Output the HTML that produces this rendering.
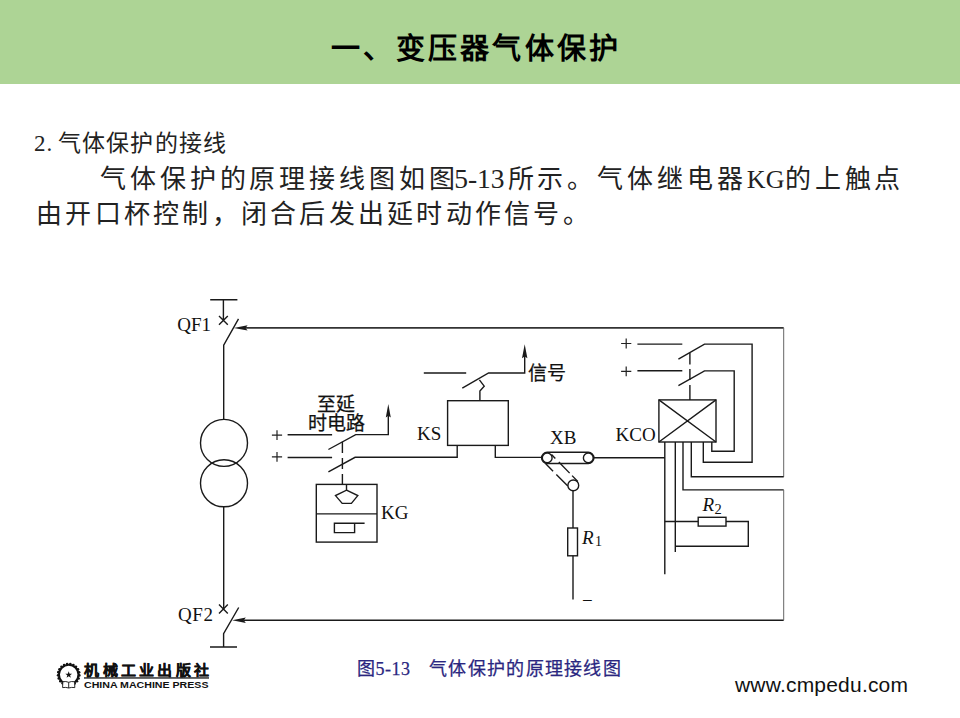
<!DOCTYPE html>
<html lang="zh-CN"><head><meta charset="utf-8">
<style>
html,body{margin:0;padding:0;}
body{width:960px;height:718px;position:relative;overflow:hidden;background:#fff;font-family:"Liberation Serif",serif;color:#000;}
.hdr{position:absolute;left:0;top:0;width:960px;height:84px;background:#ADD495;}
.title{position:absolute;color:#000;left:331px;top:29px;font-family:"Liberation Sans",sans-serif;font-size:29px;font-weight:bold;white-space:nowrap;line-height:40px;letter-spacing:3.3px;}
.t{position:absolute;white-space:nowrap;color:#222;}
.sub{left:34px;top:131px;font-size:23px;line-height:26px;letter-spacing:1.05px;word-spacing:-1.8px;}
.p1{left:100px;top:164px;font-size:26px;line-height:32px;letter-spacing:3.89px;}
.p2{left:36px;top:199px;font-size:26px;line-height:32px;letter-spacing:3.25px;}
svg{position:absolute;left:0;top:0;}
.ln{letter-spacing:0.3px;}
</style></head><body>
<div class="hdr"></div>
<div class="title">一、变压器气体保护</div>
<div class="t sub">2. 气体保护的接线</div>
<div class="t p1">气体保护的原理接线图如图<span class="ln" style="color:transparent">5-13</span>所示。气体继电器<span class="ln">KG</span>的上触点</div>
<div class="t" lang="en" style="left:454.3px;top:163px;font-size:27.5px;line-height:32px;letter-spacing:-0.1px;">5-13</div>
<div class="t p2">由开口杯控制，闭合后发出延时动作信号。</div>

<svg width="960" height="718" viewBox="0 0 960 718">
<g fill="none" stroke="#1a1a1a" stroke-width="1.4">
 <!-- QF1 -->
 <path d="M210.2 299.8H237.4M223.4 299.8V320.4M219 316l8.8 8.8M227.8 316l-8.8 8.8"/>
 <path d="M223.7 419.4V345.1L238.5 318.8"/>
 <path d="M245 327.9H783.7" stroke-width="1.6" stroke="#333"/>
 <!-- transformer -->
 <circle cx="224" cy="442.9" r="23.5"/>
 <circle cx="224" cy="483.3" r="23.5"/>
 <path d="M223.7 506.8V609"/>
 <!-- QF2 -->
 <path d="M219 604.6l8.8 8.8M227.8 604.6l-8.8 8.8"/>
 <path d="M223.6 609V609"/>
 <path d="M210 647H237M223.6 647V633.7L238.7 607.5"/>
 <path d="M244 620.2H783.7"/>
 <!-- right edge -->
 <path d="M783.7 327.9V476.8" stroke="#666" stroke-width="1"/>
 <path d="M691.3 442V476.8H783.7" />
 <path d="M683 442V489.9H783.7"/>
 <path d="M783.7 489.9V620.2" stroke="#666" stroke-width="1"/>
 <!-- left contacts -->
 <path d="M287.6 434.8H332.1M328.4 449.5L355.7 434.6H388.3V415"/>
 <path d="M287.6 457.5H332.1M328.4 471.8L355.1 457.3H457.2V445.4"/>
 <path d="M342.4 441.7V484.4" stroke-dasharray="11.2 5"/>
 <!-- KG -->
 <rect x="316.3" y="484.4" width="60.7" height="57.7"/>
 <path d="M316.3 513.9H377"/>
 <path d="M346.5 484.4V490.2"/>
 <path d="M346.5 490.2L357.8 495.6L351.4 503.4H342.2L335.5 495.6Z"/>
 <path d="M354.6 523.2V532.6H334.4V523.2H364.6"/>
 <!-- KS -->
 <rect x="447.6" y="400.7" width="60.7" height="44.7"/>
 <path d="M495.3 445.4V457.4H541.7"/>
 <path d="M423.8 373H466.2M462.3 388.1L488.6 373H524.7V356"/>
 <path d="M479.9 400.7V391L484.2 386.2L479.4 379.8"/>
 <!-- XB -->
 <path d="M547.2 452.3H588.3A5.6 5.6 0 0 1 588.3 463.5H547.2A5.6 5.6 0 0 1 547.2 452.3Z"/>
 <circle cx="547.2" cy="457.9" r="4.9"/>
 <circle cx="588.3" cy="457.9" r="4.9"/>
 <circle cx="573.3" cy="485.4" r="5.4"/>
 <path d="M551.5 454.5L577.8 481.5" stroke-dasharray="5.5 5 15.5 3.5 20"/><path d="M545.5 463.5L567.8 486.1" stroke-dasharray="10.8 4.6 20"/>
 <path d="M593.5 457.8H664.8"/>
 <path d="M573 490.3V528M573 555.8V599.5"/>
 <rect x="567.7" y="528" width="9.8" height="27.8"/>
 <!-- KCO contacts -->
 <path d="M637.4 344.1H682.3M678.4 359.1L704.5 344.1H752.1V462.2H703.3V442"/>
 <path d="M637.4 370.7H682.3M678.4 385.7L704.5 370.9H734.2V451.3H711.8V442"/>
 <path d="M689.9 352.9V399.9" stroke-dasharray="11.7 4.4 11 5 20"/>
 <rect x="658.9" y="399.9" width="57.1" height="42.1"/>
 <path d="M658.9 399.9L716 442M716 399.9L658.9 442"/>
 <path d="M664.8 442V574.2M675.3 442V552"/>
 <path d="M664.8 521.5H698.2M726 521.5H748.3V546.2H675.3"/>
 <rect x="698.2" y="517.3" width="27.8" height="8.8"/>
</g>
<path fill="none" stroke="#222" stroke-width="1.2" d="M271.9 435.1H282.1M277 430.2V440M271.9 456.9H282.1M277 452V461.8M621.1 343.5H631.3M626.2 338.6V348.4M621.1 371.4H631.3M626.2 366.5V376.3"/>
<!-- arrowheads -->
<g fill="#1a1a1a">
 <path d="M233.7 327.9L247.6 325.2L245.5 327.9L247.6 330.6Z"/>
 <path d="M232.2 620.2L245.8 617.5L243.8 620.2L245.8 622.9Z"/>
 <path d="M388.3 403.9L385.8 417.4L388.3 415.8L390.8 417.4Z"/>
 <path d="M524.7 344.3L522 358.2L524.7 356.5L527.4 358.2Z"/>
</g>
<g font-family="Liberation Serif" font-size="19" fill="#111">
 <text x="177.3" y="331.4">QF1</text>
 <text x="178" y="620.8" letter-spacing="0.6">QF2</text>
 <text x="417" y="440">KS</text>
 <text x="550" y="443.5">XB</text>
 <text x="615.5" y="440.5">KCO</text>
 <text x="381" y="518.8">KG</text>
 <text x="582" y="607">−</text>
 <text x="582" y="543.6" font-style="italic">R</text>
 <text x="595" y="546.3" font-size="14">1</text>
 <text x="702.5" y="511.3" font-style="italic">R</text>
 <text x="714.5" y="513.9" font-size="14.5">2</text>
 <g font-size="19" stroke="#111" stroke-width="0.25"><text x="317" y="410.5">至延</text>
 <text x="308.3" y="429.6">时电路</text>
 <text x="527.8" y="379.8">信号</text></g>
</g>
</svg>
<div class="t" style="left:357px;top:657px;font-size:18px;line-height:24px;color:#2a2680;-webkit-text-stroke:0.25px #2a2680;letter-spacing:0.5px;">图5-13<span style="display:inline-block;width:18.6px"></span><span style="letter-spacing:1.3px">气体保护的原理接线图</span></div>
<div class="t" style="left:735px;top:672px;font-family:'Liberation Sans',sans-serif;font-size:21px;line-height:26px;color:#111;letter-spacing:0.2px;">www.cmpedu.com</div>
<svg width="960" height="718" viewBox="0 0 960 718">
<g fill="#111"><circle cx="68.7" cy="674.6" r="9.7" fill="none" stroke="#111" stroke-width="1.9"/><circle cx="79.27" cy="675.45" r="1.35"/><circle cx="78.55" cy="678.52" r="1.35"/><circle cx="76.95" cy="681.25" r="1.35"/><circle cx="74.63" cy="683.39" r="1.35"/><circle cx="71.77" cy="684.75" r="1.35"/><circle cx="68.64" cy="685.20" r="1.35"/><circle cx="65.52" cy="684.71" r="1.35"/><circle cx="62.68" cy="683.33" r="1.35"/><circle cx="60.38" cy="681.17" r="1.35"/><circle cx="58.81" cy="678.42" r="1.35"/><circle cx="58.13" cy="675.34" r="1.35"/><circle cx="58.38" cy="672.19" r="1.35"/><circle cx="59.55" cy="669.25" r="1.35"/><circle cx="61.53" cy="666.79" r="1.35"/><circle cx="64.15" cy="665.03" r="1.35"/><circle cx="67.17" cy="664.11" r="1.35"/><circle cx="70.33" cy="664.13" r="1.35"/><circle cx="73.35" cy="665.07" r="1.35"/><circle cx="75.95" cy="666.87" r="1.35"/><circle cx="77.91" cy="669.35" r="1.35"/><circle cx="79.05" cy="672.30" r="1.35"/></g>
<path fill="#111" d="M68.70 671.30 L69.55 673.73 L72.12 673.79 L70.08 675.35 L70.82 677.81 L68.70 676.35 L66.58 677.81 L67.32 675.35 L65.28 673.79 L67.85 673.73Z"/>
<path fill="#fff" stroke="#111" stroke-width="0.9" d="M62.8 681.8Q65.8 681 68.7 682.3Q71.6 681 74.6 681.8L74.8 687.6Q71.6 687 68.7 688Q65.8 687 62.6 687.6Z M68.7 682.3V688"/>
<rect x="84" y="677.2" width="125" height="1.5" fill="#333"/>
<text x="84.5" y="675.4" font-family="Liberation Sans" font-weight="bold" font-size="15" fill="#111" stroke="#111" stroke-width="0.35" textLength="124" lengthAdjust="spacing" transform="translate(0 675.4) scale(1 0.9) translate(0 -675.4)">机械工业出版社</text>
<text x="84" y="687.5" font-family="Liberation Sans" font-weight="bold" font-size="9.8" fill="#111" textLength="124.5" lengthAdjust="spacingAndGlyphs">CHINA MACHINE PRESS</text>
</svg>
</body></html>
